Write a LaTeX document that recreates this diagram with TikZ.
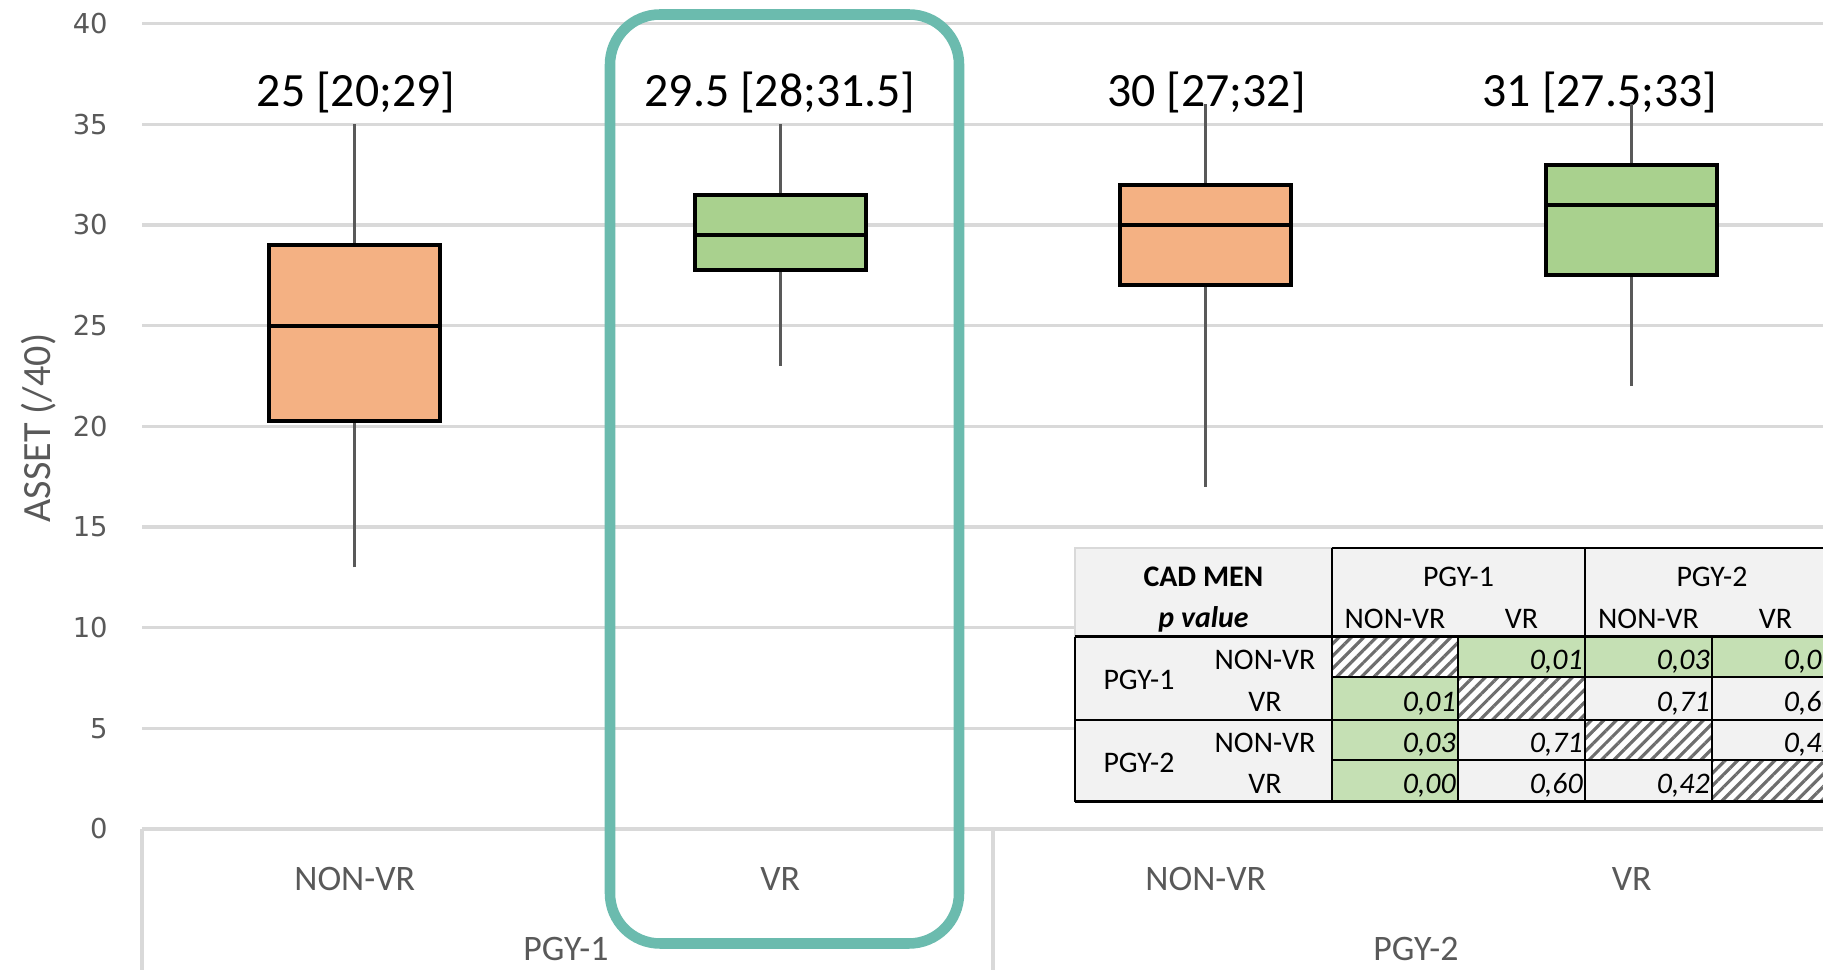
\documentclass[tikz,border=0pt]{standalone}
\usepackage{fontspec}
\setmainfont{Carlito}
\newfontfamily\tickfont{DejaVu Sans}
\usetikzlibrary{positioning,patterns.meta}

\definecolor{nonvrfill}{HTML}{F4B183}
\definecolor{vrfill}{HTML}{A9D18E}
\definecolor{sigfill}{HTML}{C5E0B4}
\definecolor{cellfill}{HTML}{F2F2F2}
\definecolor{gridcol}{HTML}{D9D9D9}
\definecolor{labelcol}{HTML}{595959}
\definecolor{framecol}{HTML}{6BBBAE}
\definecolor{hatchcol}{HTML}{6E6E6E}

\begin{document}
\begin{tikzpicture}[x=0.02cm, y=0.02cm,
    gridline/.style={gridcol, line width=1.8pt},
    whisker/.style={labelcol, line width=1.8pt},
    boxline/.style={black, line width=2.3pt},
    thinrule/.style={black, line width=0.7pt},
    thickrule/.style={black, line width=1.6pt},
    hatched/.style={postaction={pattern={Lines[angle=45,distance=5pt,line width=1.8pt]}, pattern color=hatchcol}},
    toplabel/.style={font=\fontsize{27.2}{30}\selectfont, anchor=base, inner sep=0pt},
    ticklabel/.style={font=\tickfont\fontsize{15.6}{18}\selectfont, text=labelcol, anchor=east, inner sep=0pt},
    catlabel/.style={font=\fontsize{20.4}{24}\selectfont, text=labelcol, inner sep=0pt},
    tabtext/.style={font=\fontsize{17}{20}\selectfont, anchor=base, inner sep=0pt},
    tabnum/.style={font=\fontsize{17}{20}\selectfont\itshape, anchor=base east, inner sep=0pt}]

\useasboundingbox (0,0) rectangle (1823,970);
\clip (0,0) rectangle (1823,970);

% Value axis grid and ticks
\begin{scope}[yshift=2.82cm, y=0.4028cm]
  \foreach \v in {0,5,...,40} {
    \draw[gridline] (142,\v) -- (1823,\v);
    \node[ticklabel] (tick\v) at (108,\v) {\v};
  }
\end{scope}

% Category axis
\draw[gridline] (142,141) -- (142,0);
\draw[gridline] (993,141) -- (993,0);
\node[catlabel] (catA) at (354.75,91) {NON-VR};
\node[catlabel] (catB) at (780.25,91) {VR};
\node[catlabel] (catC) at (1205.75,91) {NON-VR};
\node[catlabel] (catD) at (1631.75,91) {VR};
\node[catlabel] (grpA) at (566,21) {PGY-1};
\node[catlabel] (grpB) at (1416,21) {PGY-2};
\node[catlabel, font=\fontsize{22.8}{26}\selectfont, rotate=90] (ytitle) at (39,542) {ASSET (/40)};

% Median [IQR] labels
\node[toplabel] (medA) at (356,863) {25 [20;29]};
\node[toplabel] (medB) at (780,863) {29.5 [28;31.5]};
\node[toplabel] (medC) at (1206.5,863) {30 [27;32]};
\node[toplabel] (medD) at (1600,863) {31 [27.5;33]};

% Boxes
\begin{scope}[yshift=2.82cm, y=0.4028cm]
  % PGY-1 NON-VR
  \draw[whisker] (354.75,13) -- (354.75,35);
  \filldraw[boxline, fill=nonvrfill] (269.25,20.25) rectangle (440.25,29);
  \draw[boxline] (269.25,25) -- (440.25,25);
  % PGY-1 VR
  \draw[whisker] (780.25,23) -- (780.25,35);
  \filldraw[boxline, fill=vrfill] (694.75,27.75) rectangle (865.75,31.5);
  \draw[boxline] (694.75,29.5) -- (865.75,29.5);
  % PGY-2 NON-VR
  \draw[whisker] (1205.75,17) -- (1205.75,36);
  \filldraw[boxline, fill=nonvrfill] (1120.25,27) rectangle (1291.25,32);
  \draw[boxline] (1120.25,30) -- (1291.25,30);
  % PGY-2 VR
  \draw[whisker] (1631.75,22) -- (1631.75,36);
  \filldraw[boxline, fill=vrfill] (1546.25,27.5) rectangle (1717.25,33);
  \draw[boxline] (1546.25,31) -- (1717.25,31);
\end{scope}

% Highlight of PGY-1 VR
\draw[framecol, line width=6pt, rounded corners=1cm] (610,26.5) rectangle (959,955.5);

% Table of p values
\fill[cellfill] (1075,168.3) rectangle (1839,422);
\fill[sigfill] (1458,293) rectangle (1839,333.3);
\fill[sigfill] (1332,168.3) rectangle (1458,293);
\fill[white, hatched] (1332,293) rectangle (1458,333.3);
\fill[white, hatched] (1458,250) rectangle (1585,293);
\fill[white, hatched] (1585,210) rectangle (1712,250);
\fill[white, hatched] (1712,168.3) rectangle (1839,210);

\draw[gridcol, line width=0.8pt] (1075,333.3) -- (1075,422) -- (1332,422);
\draw[thinrule] (1458,168.3) -- (1458,333.3) (1712,168.3) -- (1712,333.3)
  (1332,293) -- (1839,293) (1332,210) -- (1839,210);
\draw[thickrule] (1332,168.3) -- (1332,422) (1585,168.3) -- (1585,422)
  (1332,422) -- (1839,422) (1075,333.3) -- (1839,333.3)
  (1075,250) -- (1839,250) (1075,168.3) -- (1839,168.3) (1075,168.3) -- (1075,333.3);

% Table headers
\node[tabtext] (hCad) at (1203.5,383) {\textbf{CAD MEN}};
\node[tabtext] (hPval) at (1203.5,342) {\textbf{\textit{p value}}};
\node[tabtext] (hPgyA) at (1458.5,383) {PGY-1};
\node[tabtext] (hPgyB) at (1712,383) {PGY-2};
\node[tabtext] (hNonA) at (1395,341) {NON-VR};
\node[tabtext] (hVrA) at (1521.5,341) {VR};
\node[tabtext] (hNonB) at (1648.5,341) {NON-VR};
\node[tabtext] (hVrB) at (1775.5,341) {VR};

% Table row labels
\node[tabtext, anchor=center] (rPgyA) at (1139,290) {PGY-1};
\node[tabtext, anchor=center] (rPgyB) at (1139,207) {PGY-2};
\node[tabtext] (rNonA) at (1265,300) {NON-VR};
\node[tabtext] (rVrA) at (1265,258) {VR};
\node[tabtext] (rNonB) at (1265,217) {NON-VR};
\node[tabtext] (rVrB) at (1265,176) {VR};

% Table values
\node[tabnum] (p12) at (1583,300) {0,01};
\node[tabnum] (p13) at (1710,300) {0,03};
\node[tabnum] (p14) at (1837,300) {0,00};
\node[tabnum] (p21) at (1456,258) {0,01};
\node[tabnum] (p23) at (1710,258) {0,71};
\node[tabnum] (p24) at (1837,258) {0,60};
\node[tabnum] (p31) at (1456,217) {0,03};
\node[tabnum] (p32) at (1583,217) {0,71};
\node[tabnum] (p34) at (1837,217) {0,42};
\node[tabnum] (p41) at (1456,176) {0,00};
\node[tabnum] (p42) at (1583,176) {0,60};
\node[tabnum] (p43) at (1710,176) {0,42};

\end{tikzpicture}
\end{document}
